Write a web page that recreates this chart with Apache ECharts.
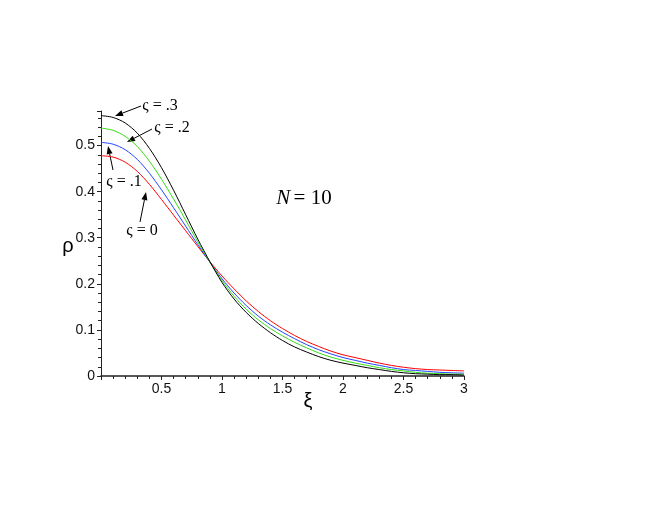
<!DOCTYPE html>
<html>
<head>
<meta charset="utf-8">
<script src="https://cdn.jsdelivr.net/npm/echarts@6/dist/echarts.min.js"></script>
<style>
html,body{margin:0;padding:0;background:#fff;}
#c{width:664px;height:513px;}
</style>
</head>
<body>
<div id="c"></div>
<script>
// xi values
const xi = [0,0.1,0.2,0.3,0.4,0.5,0.6,0.7,0.8,0.9,1.0,1.1,1.2,1.3,1.4,1.5,1.6,1.7,1.8,1.9,2.0,2.1,2.2,2.3,2.4,2.5,2.6,2.7,2.8,2.9,3.0];
// rho for varsigma = 0 (red)
const rho0 = [0.478,0.475,0.464,0.444,0.416,0.383,0.349,0.315,0.281,0.248,0.217,0.189,0.163,0.140,0.120,0.103,0.088,0.075,0.064,0.054,0.046,0.040,0.034,0.028,0.023,0.019,0.016,0.014,0.013,0.012,0.011];
// rho for varsigma = .1 (blue)
const rho1 = [0.507,0.503,0.491,0.470,0.440,0.404,0.365,0.325,0.285,0.247,0.211,0.180,0.153,0.130,0.111,0.095,0.081,0.068,0.057,0.048,0.040,0.034,0.028,0.023,0.018,0.014,0.012,0.010,0.008,0.007,0.006];
// rho for varsigma = .2 (green)
const rho2 = [0.538,0.533,0.520,0.498,0.466,0.427,0.384,0.338,0.291,0.247,0.207,0.173,0.145,0.122,0.103,0.087,0.073,0.061,0.050,0.041,0.034,0.028,0.023,0.018,0.014,0.011,0.008,0.006,0.005,0.004,0.004];
// rho for varsigma = .3 (black)
const rho3 = [0.565,0.561,0.549,0.527,0.494,0.452,0.403,0.350,0.297,0.248,0.203,0.167,0.138,0.114,0.094,0.077,0.063,0.052,0.042,0.034,0.028,0.023,0.018,0.014,0.010,0.007,0.005,0.004,0.003,0.003,0.002];
const seriesNames = ['ς = 0','ς = .1','ς = .2','ς = .3'];
const xTickLabels = ['0','0.5','1','1.5','2','2.5','3'];
const yTickLabels = ['0','0.1','0.2','0.3','0.4','0.5'];

const colors = ['#ff0000','#2244ff','#33dd11','#000000'];
const all = [rho0,rho1,rho2,rho3];

const chart = echarts.init(document.getElementById('c'));

function arrow(x1,y1,x2,y2){
  const a = Math.atan2(y2-y1,x2-x1), L=8, w=3;
  const bx = x2 - L*Math.cos(a), by = y2 - L*Math.sin(a);
  return [
    {type:'line', shape:{x1:x1,y1:y1,x2:bx,y2:by}, style:{stroke:'#000',lineWidth:1}},
    {type:'polygon', shape:{points:[[x2,y2],[bx+w*Math.sin(a),by-w*Math.cos(a)],[bx-w*Math.sin(a),by+w*Math.cos(a)]]}, style:{fill:'#000'}}
  ];
}
const serif = '"Liberation Serif","Times New Roman",serif';
function lab(x,y,t){
  return {type:'text', x:x, y:y, style:{text:t, font:'16px '+serif, fill:'#000', align:'center', verticalAlign:'middle'}};
}

const graphics = [].concat(
  arrow(141,106,115,116), lab(160,106,seriesNames[3]),
  arrow(152,129,127,142), lab(172,128,seriesNames[2]),
  arrow(113,170,108,146), lab(124,182,seriesNames[1]),
  arrow(140,222,146,192), lab(142,231,seriesNames[0]),
  [
    {type:'text', x:304, y:198, style:{rich:{i:{font:'italic 21px '+serif, fill:'#000'}, n:{font:'21px '+serif, fill:'#000'}}, text:'{i|N} {n|= 10}', align:'center', verticalAlign:'middle'}},
    {type:'text', x:68, y:246, style:{text:'ρ', font:'20px "Liberation Sans",Arial,sans-serif', fill:'#000', align:'center', verticalAlign:'middle'}},
    {type:'text', x:308, y:401, style:{text:'ξ', font:'20px "Liberation Sans",Arial,sans-serif', fill:'#000', align:'center', verticalAlign:'middle'}}
  ]
);

chart.setOption({
  animation:false,
  backgroundColor:'#fff',
  grid:{left:101, right:200, top:111, bottom:137},
  xAxis:{
    type:'value', min:0, max:3, interval:0.5,
    axisLine:{lineStyle:{color:'#222', width:1.5}},
    axisTick:{show:true, length:4, lineStyle:{color:'#222'}},
    minorTick:{show:true, splitNumber:5, length:3, lineStyle:{color:'#222'}},
    splitLine:{show:false},
    axisLabel:{showMinLabel:false, margin:6, color:'#111', fontSize:14, fontFamily:'"Liberation Sans",Arial,sans-serif',
      formatter:function(v){ const i=Math.round(v/0.5); return xTickLabels[i]!==undefined?xTickLabels[i]:''; }}
  },
  yAxis:{
    type:'value', min:0, max:0.575, interval:0.1,
    axisLine:{show:true, lineStyle:{color:'#222', width:1}},
    axisTick:{show:true, length:4, lineStyle:{color:'#222'}},
    minorTick:{show:true, splitNumber:5, length:3, lineStyle:{color:'#222'}},
    splitLine:{show:false},
    axisLabel:{showMaxLabel:false, margin:6, color:'#111', fontSize:14, fontFamily:'"Liberation Sans",Arial,sans-serif',
      formatter:function(v){ const i=Math.round(v/0.1); return (Math.abs(v-i*0.1)<1e-6 && yTickLabels[i]!==undefined)?yTickLabels[i]:''; }}
  },
  series: all.map(function(arr,k){
    return {
      type:'line', name:seriesNames[k], showSymbol:false, smooth:0.3,
      lineStyle:{color:colors[k], width:1},
      data: xi.map(function(x,i){ return [x, arr[i]]; }),
      z: 2+k
    };
  }),
  graphic: graphics
});
</script>
</body>
</html>
